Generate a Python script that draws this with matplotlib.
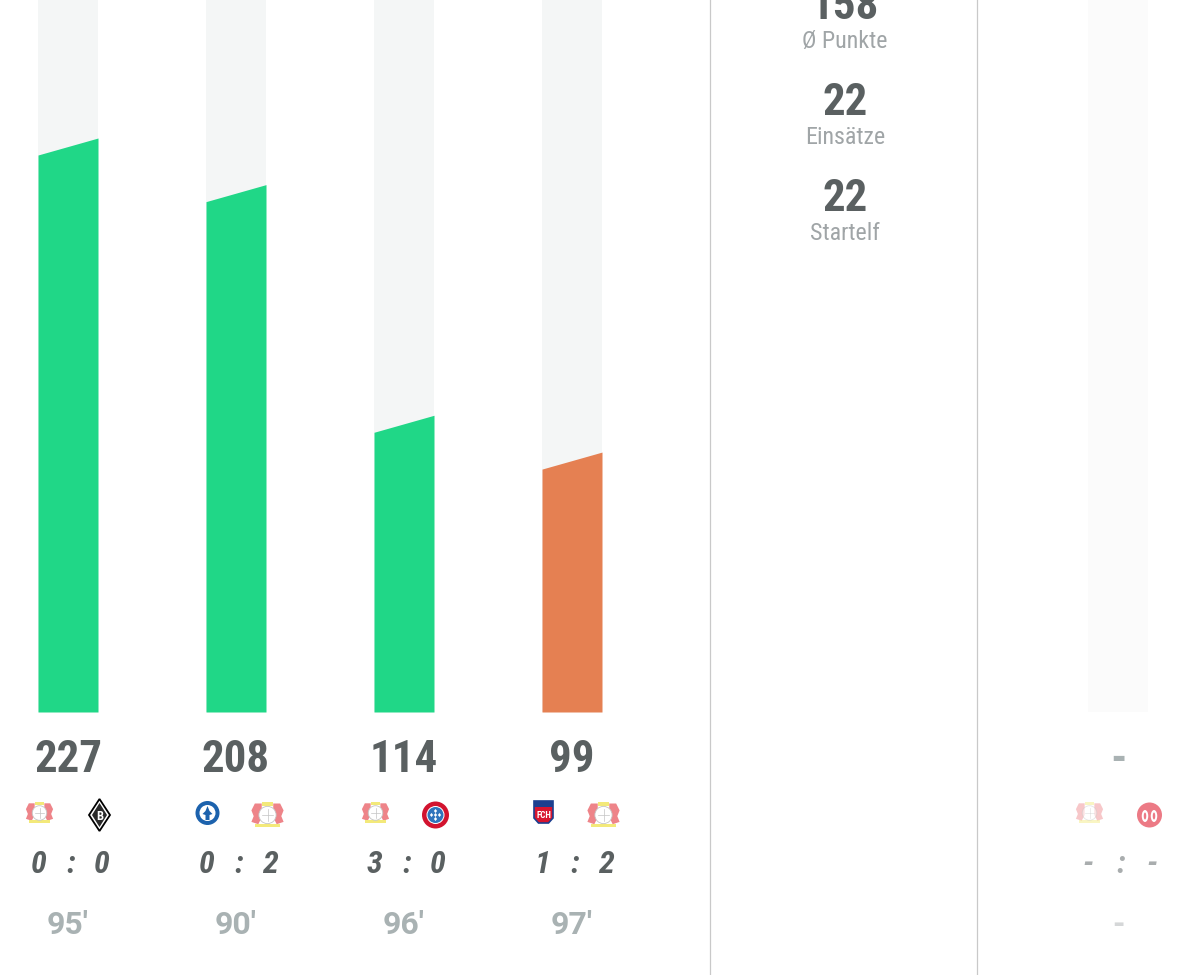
#!/usr/bin/env python3
# plot.py - duel bars with score rows and a stat column
import matplotlib
matplotlib.use("Agg")
import matplotlib.pyplot as plt
from matplotlib.patches import Circle, Ellipse, Polygon, Rectangle
from matplotlib import font_manager as fm

# data
values = [227, 208, 114, 99]
bar_colors = ["#20d787", "#20d787", "#20d787", "#e58052"]
value_labels = ["227", "208", "114", "99", "-"]
scores_home = ["0", "0", "3", "1", "-"]
scores_away = ["0", "2", "0", "2", "-"]
minutes = ["95'", "90'", "96'", "97'", "-"]
home_crests = ["lev", "darm", "lev", "fch", "lev"]
away_crests = ["bmg", "lev", "fcb", "lev", "m05"]
stat_numbers = ["158", "22", "22"]
stat_names = ["Ø Punkte", "Einsätze", "Startelf"]

# layout in pixels
W, H = 1179, 975
centers = [68, 236, 404, 572, 1118]
BAR_W = 60
BASE = 712
PX_PER_UNIT = 2.4537
SLANT = 17

DARK = "#5a6061"
MID = "#a0a5a7"
LIGHT = "#a9b2b3"

names = {f.name for f in fm.fontManager.ttflist}
FONT = "Roboto Condensed" if "Roboto Condensed" in names else "Roboto"

fig = plt.figure(figsize=(W / 100, H / 100), dpi=100)
ax = fig.add_axes([0, 0, 1, 1])
ax.set_xlim(0, W)
ax.set_ylim(H, 0)
ax.axis("off")


def txt(x, y, s, px, color, weight="bold", style="normal", family=FONT):
    ax.text(x, y, s, fontsize=px * 0.72, color=color, family=family, weight=weight,
            style=style, ha="center", va="baseline")


def lev(x, y, s, a):
    # two lions, white ball, yellow banners
    for sign in (-1, 1):
        ax.add_patch(Polygon([(x + sign * 5 * s, y - 10 * s), (x + sign * 11 * s, y - 10 * s),
                              (x + sign * 14 * s, y - 4 * s), (x + sign * 12 * s, y + 1 * s),
                              (x + sign * 14 * s, y + 6 * s), (x + sign * 8 * s, y + 8 * s),
                              (x + sign * 5 * s, y + 2 * s)],
                             fc="#ee8489", ec="none", alpha=a))
    ax.add_patch(Rectangle((x - 5 * s, y - 11 * s), 10 * s, 3 * s, color="#f3e97a", alpha=a, lw=0))
    ax.add_patch(Rectangle((x - 11 * s, y + 7.5 * s), 22 * s, 3 * s, color="#f3e97a", alpha=a, lw=0))
    ax.add_patch(Circle((x, y), 7.5 * s, fc="white", ec="#c4c4c4", lw=0.6, alpha=a))
    ax.plot([x - 5 * s, x + 5 * s], [y, y], color="#c4c4c4", lw=0.5, alpha=a)
    ax.plot([x, x], [y - 5 * s, y + 5 * s], color="#c4c4c4", lw=0.5, alpha=a)


def crest(kind, x, y, a=1.0):
    if kind == "lev":
        lev(x, y, 1.15 if y > 813 else 0.97, a)
    elif kind == "bmg":
        ax.add_patch(Polygon([(x, y - 16), (x + 10.5, y), (x, y + 16), (x - 10.5, y)],
                             fc="white", ec="black", lw=1.3, alpha=a))
        ax.add_patch(Polygon([(x, y - 12), (x + 7.5, y), (x, y + 12), (x - 7.5, y)],
                             fc="#2a2a2a", ec="none", alpha=a))
        ax.text(x, y + 4.5, "B", fontsize=9, color="white", weight="bold", ha="center",
                va="baseline", family=FONT)
    elif kind == "darm":
        ax.add_patch(Circle((x, y), 12, fc="#1c62ad", ec="none", alpha=a))
        ax.add_patch(Circle((x, y), 8, fc="white", ec="none", alpha=a))
        ax.add_patch(Polygon([(x, y - 7), (x + 2, y - 2), (x + 5, y + 1), (x + 2, y + 2), (x + 2, y + 7),
                              (x - 2, y + 7), (x - 2, y + 2), (x - 5, y + 1), (x - 2, y - 2)],
                             fc="#1c62ad", ec="none", alpha=a))
    elif kind == "fcb":
        ax.add_patch(Circle((x, y), 13.5, fc="#d2132f", ec="none", alpha=a))
        ax.add_patch(Circle((x, y), 9, fc="white", ec="none", alpha=a))
        ax.add_patch(Circle((x, y), 8, fc="#2f74bd", ec="none", alpha=a))
        for dx, dy in [(-4, 0), (4, 0), (0, -4), (0, 4), (0, 0)]:
            ax.add_patch(Polygon([(x + dx, y + dy - 2), (x + dx + 1.6, y + dy), (x + dx, y + dy + 2),
                                  (x + dx - 1.6, y + dy)], fc="white", ec="none", alpha=a))
    elif kind == "fch":
        ax.add_patch(Polygon([(x - 9.5, y - 12), (x + 9.5, y - 12), (x + 9.5, y + 5),
                              (x + 5, y + 10), (x - 5, y + 10), (x - 9.5, y + 5)],
                             fc="#d8152f", ec="#1c3f8f", lw=1.2, alpha=a))
        ax.add_patch(Rectangle((x - 9.5, y - 12), 19, 6, color="#1c3f8f", alpha=a, lw=0))
        ax.text(x, y + 5, "FCH", fontsize=6.5, color="white", weight="bold", ha="center",
                va="baseline", family=FONT)
    elif kind == "m05":
        ax.add_patch(Circle((x, y), 12.5, fc="#ec7a85", ec="none", alpha=a))
        ax.add_patch(Ellipse((x - 4.5, y + 1), 6.5, 12, fc="white", ec="none", alpha=a))
        ax.add_patch(Ellipse((x + 4.5, y + 1), 6.5, 12, fc="white", ec="none", alpha=a))
        ax.add_patch(Ellipse((x - 4.5, y + 1), 2.5, 7, fc="#ec7a85", ec="none", alpha=a))
        ax.add_patch(Ellipse((x + 4.5, y + 1), 2.5, 7, fc="#ec7a85", ec="none", alpha=a))


# bars
for i, c in enumerate(centers):
    x0, x1 = c - BAR_W / 2, c + BAR_W / 2
    track = "#f4f6f6" if i < len(values) else "#fbfbfb"
    ax.fill_between([x0, x1], 0, BASE, color=track, lw=0)
    if i < len(values):
        top = BASE - values[i] * PX_PER_UNIT
        ax.fill_between([x0, x1], [top, top - SLANT], BASE, color=bar_colors[i], lw=0)

# rows below the bars
for i, c in enumerate(centers):
    faded = i == len(centers) - 1
    txt(c, 772, value_labels[i], 45, LIGHT if faded else DARK)
    crest(home_crests[i], c - 28.5, 813, 0.45 if faded else 1)
    crest(away_crests[i], c + 31.5, 815, 1)
    score_col = "#a9adae" if faded else DARK
    txt(c - 29.5, 873, scores_home[i], 32, score_col, style="italic")
    txt(c + 3, 873, ":", 32, score_col, style="italic")
    txt(c + 34, 873, scores_away[i], 32, score_col, style="italic")
    txt(c, 934, minutes[i], 32, "#d5d7d8" if faded else LIGHT, family="Roboto")

# separators
for xs in (710.5, 977.5):
    ax.plot([xs - 0.5, xs - 0.5], [0, H], color="#c9c9c9", lw=0.9)

# stat column
for k, (num, name) in enumerate(zip(stat_numbers, stat_names)):
    y = 19 + 96 * k
    txt(845, y, num, 45, DARK)
    txt(845, y + 29, name, 24, MID, weight="normal")

fig.savefig("out.png", dpi=100)
